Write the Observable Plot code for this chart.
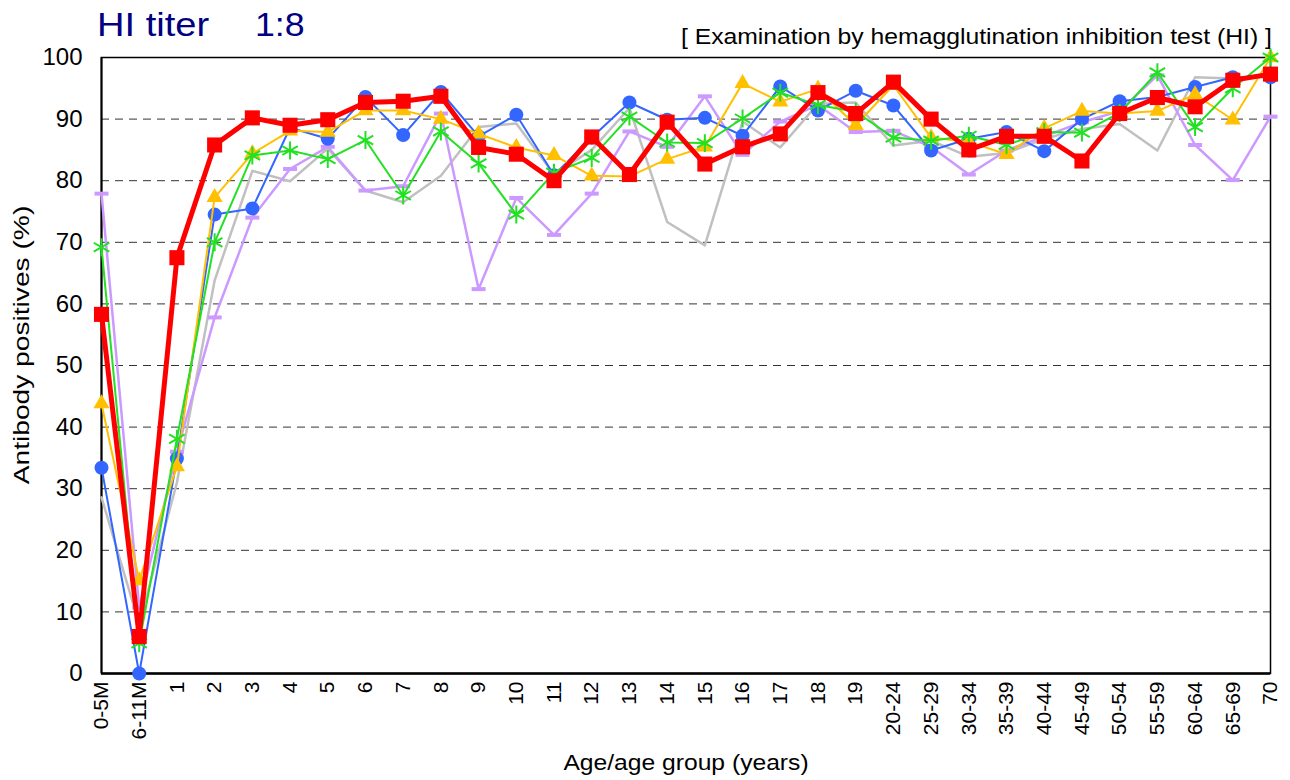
<!DOCTYPE html>
<html>
<head>
<meta charset="utf-8">
<script src="https://cdn.jsdelivr.net/npm/d3@7"></script>
<script src="https://cdn.jsdelivr.net/npm/@observablehq/plot@0.6"></script>
<style>
  html, body { margin: 0; padding: 0; background: #fff; }
  #wrap { position: relative; width: 1290px; height: 780px; font-family: "Liberation Sans", Arial, sans-serif; }
  #wrap svg { position: absolute; left: 0; top: 0; }
  .t { position: absolute; white-space: pre; line-height: 1; }
</style>
</head>
<body>
<div id="wrap">
  <div class="t" style="left:97px; top:7px; font-size:34px; color:#000080; transform-origin:left center; transform:scaleX(1.12);">HI titer</div>
  <div class="t" style="left:255px; top:7px; font-size:34px; color:#000080; transform-origin:left center; transform:scaleX(1.05);">1:8</div>
  <div class="t" id="sub" style="right:18px; top:27px; font-size:21.5px; color:#000; transform-origin:right center; transform:scaleX(1.15);">[ Examination by hemagglutination inhibition test (HI) ]</div>
  <div class="t" style="left:686px; top:752px; font-size:22px; color:#000; transform:translateX(-50%) scaleX(1.12);">Age/age group (years)</div>
  <div class="t" style="left:22px; top:345px; font-size:22px; color:#000; transform:translate(-50%,-50%) rotate(-90deg) scaleX(1.28);">Antibody positives (%)</div>
</div>
<script>
// Categories (age / age group)
const ages = ["0-5M","6-11M","1","2","3","4","5","6","7","8","9","10","11","12","13","14","15","16","17","18","19",
  "20-24","25-29","30-34","35-39","40-44","45-49","50-54","55-59","60-64","65-69","70"];

// Series values: antibody positive rate (%)
const grayVals = [28.6, 8, 31, 63.8, 81.6, 79.9, 85.2, 78.4, 76.5, 80.8,
  88.7, 89.3, 81.0, 85.0, 91.8, 73.3, 69.5, 89.6, 85.4, 92.5,
  92.7, 85.7, 86.5, 83.9, 84.5, 86.8, 88.4, 89.2, 84.9, 96.8, 96.6, 97.0];
const lavenderVals = [77.9, 10.7, 36, 57.8, 74.0, 81.9, 85.5, 78.4, 79.1, 90.9,
  62.4, 77.2, 71.2, 77.9, 88.0, 85.5, 93.7, 84.2, 89.6, 92.3,
  87.9, 88.1, 85.5, 81.0, 84.9, 87.2, 89.5, 91.3, 97.1, 85.8, 80.1, 90.4];
const blueVals = [33.4, 0, 34.9, 74.5, 75.5, 88.6, 86.8, 93.6, 87.4, 94.4,
  87.2, 90.7, 80.9, 87.0, 92.7, 89.9, 90.2, 87.3, 95.3, 91.4,
  94.6, 92.2, 84.9, 86.8, 87.9, 84.8, 90.0, 92.9, 93.6, 95.2, 96.8, 96.8];
const yellowVals = [43.8, 15.1, 33.6, 77.3, 84.4, 88.1, 87.9, 91.4, 91.4, 90.0,
  87.6, 85.4, 84.1, 80.8, 80.7, 83.5, 85.5, 95.8, 92.8, 94.9,
  89.0, 95.5, 87.0, 86.3, 84.3, 88.5, 91.3, 90.9, 91.3, 94.0, 89.9, 100];
const greenVals = [69.2, 4.9, 38.1, 70.0, 84.1, 84.9, 83.5, 86.6, 77.6, 88.0,
  82.8, 74.5, 81.3, 83.7, 90.4, 86.2, 86.1, 90.1, 94.3, 92.3,
  91.2, 87.0, 86.5, 87.3, 85.8, 87.9, 87.8, 91.0, 97.6, 88.7, 95.0, 100];
const redVals = [58.3, 6.0, 67.5, 85.8, 90.2, 89.0, 89.9, 92.7, 92.9, 93.7,
  85.4, 84.3, 80.0, 87.1, 81.0, 89.5, 82.7, 85.5, 87.6, 94.3,
  90.9, 96.0, 90.0, 85.0, 87.2, 87.2, 83.2, 90.9, 93.5, 92.0, 96.3, 97.3];

const yTicks = [0, 10, 20, 30, 40, 50, 60, 70, 80, 90, 100];
const gridTicks = [10, 20, 30, 40, 50, 60, 70, 80, 90];

const rows = vals => ages.map((a, i) => ({age: a, v: vals[i]}));

const dashSymbol = {
  draw(ctx) {
    ctx.moveTo(-7, -2); ctx.lineTo(7, -2); ctx.lineTo(7, 2); ctx.lineTo(-7, 2); ctx.closePath();
  }
};

const C = {gray: "#C0C0C0", lav: "#CC99FF", blue: "#3366FF", yellow: "#FFC000", green: "#22E022", red: "#FF0000"};

const chart = Plot.plot({
  width: 1290,
  height: 780,
  marginTop: 57,
  marginBottom: 107,
  marginLeft: 101,
  marginRight: 20,
  style: {fontFamily: "'Liberation Sans', Arial, sans-serif", background: "transparent", color: "#000"},
  x: {type: "point", domain: ages, padding: 0, round: false, label: null},
  y: {domain: [0, 100], label: null},
  marks: [
    Plot.ruleY(gridTicks, {stroke: "#333", strokeDasharray: "8,6", strokeWidth: 1}),
    Plot.frame({stroke: "#000", strokeWidth: 1.5}),
    Plot.ruleX([ages[0]], {stroke: "#000", strokeWidth: 2}),
    Plot.ruleY([0], {stroke: "#000", strokeWidth: 2.5}),
    Plot.axisY({ticks: yTicks, tickSize: 0, tickPadding: 19, fontSize: 24, label: null}),
    Plot.axisX({tickSize: 0, tickPadding: 8, tickRotate: -90, fontSize: 21, label: null}),

    Plot.line(rows(grayVals), {x: "age", y: "v", stroke: C.gray, strokeWidth: 2.5}),

    Plot.line(rows(lavenderVals), {x: "age", y: "v", stroke: C.lav, strokeWidth: 2.5}),
    Plot.dot(rows(lavenderVals), {x: "age", y: "v", symbol: dashSymbol, fill: C.lav, stroke: "none"}),

    Plot.line(rows(blueVals), {x: "age", y: "v", stroke: C.blue, strokeWidth: 2}),
    Plot.dot(rows(blueVals), {x: "age", y: "v", symbol: "circle", r: 7, fill: C.blue, stroke: "none"}),

    Plot.line(rows(yellowVals), {x: "age", y: "v", stroke: C.yellow, strokeWidth: 2}),
    Plot.dot(rows(yellowVals), {x: "age", y: "v", symbol: "triangle", r: 6, fill: C.yellow, stroke: "none"}),

    Plot.line(rows(greenVals), {x: "age", y: "v", stroke: C.green, strokeWidth: 2}),
    Plot.dot(rows(greenVals), {x: "age", y: "v", symbol: "asterisk", r: 8.5, stroke: C.green, strokeWidth: 2, fill: "none"}),

    Plot.line(rows(redVals), {x: "age", y: "v", stroke: C.red, strokeWidth: 5}),
    Plot.dot(rows(redVals), {x: "age", y: "v", symbol: "square", r: 8.5, fill: C.red, stroke: "none"})
  ]
});
document.getElementById("wrap").prepend(chart);
</script>
</body>
</html>
